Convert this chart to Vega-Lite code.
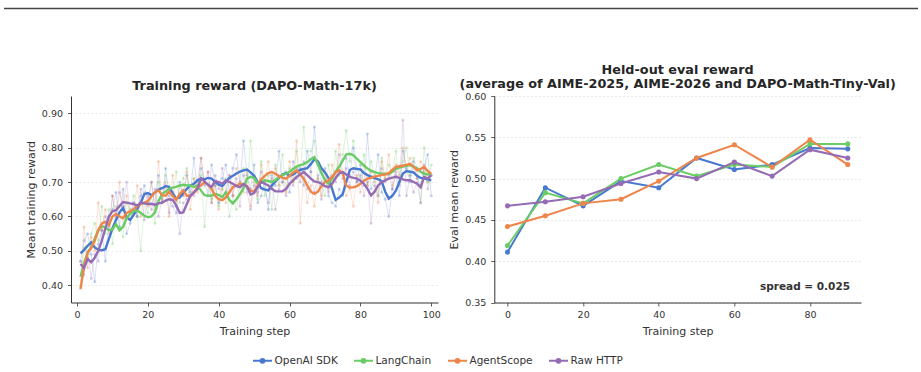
{
  "$schema": "https://vega.github.io/schema/vega-lite/v6.json",
  "padding": {"left": 3, "top": 7, "right": 4, "bottom": 4},
  "config": {
    "font": "DejaVu Sans",
    "view": {"stroke": null},
    "axis": {
      "labelFont": "DejaVu Sans", "labelFontSize": 9.5, "labelColor": "#333333",
      "titleFont": "DejaVu Sans", "titleFontSize": 11, "titleFontWeight": "normal", "titleColor": "#333333",
      "domainColor": "#333333", "domainWidth": 1, "tickColor": "#333333", "tickSize": 3.5, "tickWidth": 0.8,
      "gridColor": "#e2e2e2", "gridDash": [2, 2], "gridWidth": 0.8, "labelFlush": false
    },
    "axisX": {"grid": false, "labelPadding": 3, "titlePadding": 6.5},
    "axisY": {"labelPadding": 5, "titlePadding": 5},
    "title": {"font": "DejaVu Sans", "fontSize": 12.8, "fontWeight": "bold", "color": "#262626"},
    "legend": {
      "orient": "none", "legendX": 181, "legendY": 342, "direction": "horizontal",
      "padding": 0, "columnPadding": 12, "labelOffset": 1.5,
      "labelFont": "DejaVu Sans", "labelFontSize": 10.5, "labelColor": "#333333",
      "symbolType": "M-1,0H1M0.2,0A0.2,0.2,0,1,1,-0.2,0A0.2,0.2,0,1,1,0.2,0Z",
      "symbolSize": 361, "symbolStrokeWidth": 2
    }
  },
  "datasets": {
    "eval": [
      {"step": 0, "framework": "OpenAI SDK", "reward": 0.411}, {"step": 10, "framework": "OpenAI SDK", "reward": 0.489}, {"step": 20, "framework": "OpenAI SDK", "reward": 0.467}, {"step": 30, "framework": "OpenAI SDK", "reward": 0.497}, {"step": 40, "framework": "OpenAI SDK", "reward": 0.489}, {"step": 50, "framework": "OpenAI SDK", "reward": 0.525}, {"step": 60, "framework": "OpenAI SDK", "reward": 0.511}, {"step": 70, "framework": "OpenAI SDK", "reward": 0.517}, {"step": 80, "framework": "OpenAI SDK", "reward": 0.537}, {"step": 90, "framework": "OpenAI SDK", "reward": 0.536},
      {"step": 0, "framework": "LangChain", "reward": 0.419}, {"step": 10, "framework": "LangChain", "reward": 0.483}, {"step": 20, "framework": "LangChain", "reward": 0.470}, {"step": 30, "framework": "LangChain", "reward": 0.500}, {"step": 40, "framework": "LangChain", "reward": 0.517}, {"step": 50, "framework": "LangChain", "reward": 0.503}, {"step": 60, "framework": "LangChain", "reward": 0.517}, {"step": 70, "framework": "LangChain", "reward": 0.514}, {"step": 80, "framework": "LangChain", "reward": 0.542}, {"step": 90, "framework": "LangChain", "reward": 0.542},
      {"step": 0, "framework": "AgentScope", "reward": 0.442}, {"step": 10, "framework": "AgentScope", "reward": 0.455}, {"step": 20, "framework": "AgentScope", "reward": 0.470}, {"step": 30, "framework": "AgentScope", "reward": 0.475}, {"step": 40, "framework": "AgentScope", "reward": 0.497}, {"step": 50, "framework": "AgentScope", "reward": 0.525}, {"step": 60, "framework": "AgentScope", "reward": 0.541}, {"step": 70, "framework": "AgentScope", "reward": 0.514}, {"step": 80, "framework": "AgentScope", "reward": 0.547}, {"step": 90, "framework": "AgentScope", "reward": 0.517},
      {"step": 0, "framework": "Raw HTTP", "reward": 0.467}, {"step": 10, "framework": "Raw HTTP", "reward": 0.472}, {"step": 20, "framework": "Raw HTTP", "reward": 0.478}, {"step": 30, "framework": "Raw HTTP", "reward": 0.494}, {"step": 40, "framework": "Raw HTTP", "reward": 0.508}, {"step": 50, "framework": "Raw HTTP", "reward": 0.500}, {"step": 60, "framework": "Raw HTTP", "reward": 0.520}, {"step": 70, "framework": "Raw HTTP", "reward": 0.503}, {"step": 80, "framework": "Raw HTTP", "reward": 0.535}, {"step": 90, "framework": "Raw HTTP", "reward": 0.525}
    ],
    "train": [
      {"step":1,"framework":"OpenAI SDK","raw":0.47,"smooth":0.493},{"step":2,"framework":"OpenAI SDK","raw":0.53,"smooth":0.503},{"step":3,"framework":"OpenAI SDK","raw":0.55,"smooth":0.515},{"step":4,"framework":"OpenAI SDK","raw":0.49,"smooth":0.525},{"step":5,"framework":"OpenAI SDK","raw":0.41,"smooth":0.51},{"step":6,"framework":"OpenAI SDK","raw":0.52,"smooth":0.503},{"step":7,"framework":"OpenAI SDK","raw":0.56,"smooth":0.502},{"step":8,"framework":"OpenAI SDK","raw":0.47,"smooth":0.505},{"step":9,"framework":"OpenAI SDK","raw":0.6,"smooth":0.535},{"step":10,"framework":"OpenAI SDK","raw":0.62,"smooth":0.565},
      {"step":11,"framework":"OpenAI SDK","raw":0.67,"smooth":0.59},{"step":12,"framework":"OpenAI SDK","raw":0.57,"smooth":0.612},{"step":13,"framework":"OpenAI SDK","raw":0.68,"smooth":0.625},{"step":14,"framework":"OpenAI SDK","raw":0.55,"smooth":0.598},{"step":15,"framework":"OpenAI SDK","raw":0.58,"smooth":0.59},{"step":16,"framework":"OpenAI SDK","raw":0.64,"smooth":0.605},{"step":17,"framework":"OpenAI SDK","raw":0.6,"smooth":0.622},{"step":18,"framework":"OpenAI SDK","raw":0.66,"smooth":0.64},{"step":19,"framework":"OpenAI SDK","raw":0.69,"smooth":0.665},{"step":20,"framework":"OpenAI SDK","raw":0.64,"smooth":0.668},
      {"step":21,"framework":"OpenAI SDK","raw":0.7,"smooth":0.662},{"step":22,"framework":"OpenAI SDK","raw":0.63,"smooth":0.67},{"step":23,"framework":"OpenAI SDK","raw":0.72,"smooth":0.678},{"step":24,"framework":"OpenAI SDK","raw":0.64,"smooth":0.682},{"step":25,"framework":"OpenAI SDK","raw":0.74,"smooth":0.688},{"step":26,"framework":"OpenAI SDK","raw":0.66,"smooth":0.686},{"step":27,"framework":"OpenAI SDK","raw":0.63,"smooth":0.668},{"step":28,"framework":"OpenAI SDK","raw":0.61,"smooth":0.652},{"step":29,"framework":"OpenAI SDK","raw":0.7,"smooth":0.655},{"step":30,"framework":"OpenAI SDK","raw":0.66,"smooth":0.668},
      {"step":31,"framework":"OpenAI SDK","raw":0.72,"smooth":0.68},{"step":32,"framework":"OpenAI SDK","raw":0.67,"smooth":0.69},{"step":33,"framework":"OpenAI SDK","raw":0.77,"smooth":0.695},{"step":34,"framework":"OpenAI SDK","raw":0.68,"smooth":0.705},{"step":35,"framework":"OpenAI SDK","raw":0.74,"smooth":0.71},{"step":36,"framework":"OpenAI SDK","raw":0.7,"smooth":0.708},{"step":37,"framework":"OpenAI SDK","raw":0.66,"smooth":0.712},{"step":38,"framework":"OpenAI SDK","raw":0.75,"smooth":0.71},{"step":39,"framework":"OpenAI SDK","raw":0.69,"smooth":0.7},{"step":40,"framework":"OpenAI SDK","raw":0.64,"smooth":0.692},
      {"step":41,"framework":"OpenAI SDK","raw":0.71,"smooth":0.688},{"step":42,"framework":"OpenAI SDK","raw":0.75,"smooth":0.7},{"step":43,"framework":"OpenAI SDK","raw":0.67,"smooth":0.712},{"step":44,"framework":"OpenAI SDK","raw":0.74,"smooth":0.718},{"step":45,"framework":"OpenAI SDK","raw":0.78,"smooth":0.725},{"step":46,"framework":"OpenAI SDK","raw":0.7,"smooth":0.73},{"step":47,"framework":"OpenAI SDK","raw":0.82,"smooth":0.734},{"step":48,"framework":"OpenAI SDK","raw":0.72,"smooth":0.736},{"step":49,"framework":"OpenAI SDK","raw":0.68,"smooth":0.728},{"step":50,"framework":"OpenAI SDK","raw":0.75,"smooth":0.718},
      {"step":51,"framework":"OpenAI SDK","raw":0.64,"smooth":0.7},{"step":52,"framework":"OpenAI SDK","raw":0.66,"smooth":0.682},{"step":53,"framework":"OpenAI SDK","raw":0.7,"smooth":0.678},{"step":54,"framework":"OpenAI SDK","raw":0.62,"smooth":0.676},{"step":55,"framework":"OpenAI SDK","raw":0.72,"smooth":0.69},{"step":56,"framework":"OpenAI SDK","raw":0.69,"smooth":0.702},{"step":57,"framework":"OpenAI SDK","raw":0.79,"smooth":0.712},{"step":58,"framework":"OpenAI SDK","raw":0.7,"smooth":0.722},{"step":59,"framework":"OpenAI SDK","raw":0.73,"smooth":0.726},{"step":60,"framework":"OpenAI SDK","raw":0.67,"smooth":0.718},
      {"step":61,"framework":"OpenAI SDK","raw":0.76,"smooth":0.722},{"step":62,"framework":"OpenAI SDK","raw":0.71,"smooth":0.73},{"step":63,"framework":"OpenAI SDK","raw":0.74,"smooth":0.735},{"step":64,"framework":"OpenAI SDK","raw":0.69,"smooth":0.738},{"step":65,"framework":"OpenAI SDK","raw":0.79,"smooth":0.74},{"step":66,"framework":"OpenAI SDK","raw":0.73,"smooth":0.752},{"step":67,"framework":"OpenAI SDK","raw":0.86,"smooth":0.766},{"step":68,"framework":"OpenAI SDK","raw":0.75,"smooth":0.76},{"step":69,"framework":"OpenAI SDK","raw":0.7,"smooth":0.74},{"step":70,"framework":"OpenAI SDK","raw":0.74,"smooth":0.728},
      {"step":71,"framework":"OpenAI SDK","raw":0.66,"smooth":0.712},{"step":72,"framework":"OpenAI SDK","raw":0.64,"smooth":0.68},{"step":73,"framework":"OpenAI SDK","raw":0.63,"smooth":0.648},{"step":74,"framework":"OpenAI SDK","raw":0.68,"smooth":0.655},{"step":75,"framework":"OpenAI SDK","raw":0.66,"smooth":0.665},{"step":76,"framework":"OpenAI SDK","raw":0.77,"smooth":0.7},{"step":77,"framework":"OpenAI SDK","raw":0.72,"smooth":0.735},{"step":78,"framework":"OpenAI SDK","raw":0.8,"smooth":0.74},{"step":79,"framework":"OpenAI SDK","raw":0.7,"smooth":0.738},{"step":80,"framework":"OpenAI SDK","raw":0.75,"smooth":0.737},
      {"step":81,"framework":"OpenAI SDK","raw":0.69,"smooth":0.726},{"step":82,"framework":"OpenAI SDK","raw":0.84,"smooth":0.72},{"step":83,"framework":"OpenAI SDK","raw":0.68,"smooth":0.716},{"step":84,"framework":"OpenAI SDK","raw":0.71,"smooth":0.712},{"step":85,"framework":"OpenAI SDK","raw":0.78,"smooth":0.708},{"step":86,"framework":"OpenAI SDK","raw":0.67,"smooth":0.703},{"step":87,"framework":"OpenAI SDK","raw":0.65,"smooth":0.672},{"step":88,"framework":"OpenAI SDK","raw":0.6,"smooth":0.652},{"step":89,"framework":"OpenAI SDK","raw":0.68,"smooth":0.66},{"step":90,"framework":"OpenAI SDK","raw":0.72,"smooth":0.675},
      {"step":91,"framework":"OpenAI SDK","raw":0.66,"smooth":0.7},{"step":92,"framework":"OpenAI SDK","raw":0.79,"smooth":0.725},{"step":93,"framework":"OpenAI SDK","raw":0.74,"smooth":0.732},{"step":94,"framework":"OpenAI SDK","raw":0.7,"smooth":0.73},{"step":95,"framework":"OpenAI SDK","raw":0.76,"smooth":0.728},{"step":96,"framework":"OpenAI SDK","raw":0.71,"smooth":0.718},{"step":97,"framework":"OpenAI SDK","raw":0.69,"smooth":0.712},{"step":98,"framework":"OpenAI SDK","raw":0.74,"smooth":0.71},{"step":99,"framework":"OpenAI SDK","raw":0.78,"smooth":0.708},{"step":100,"framework":"OpenAI SDK","raw":0.66,"smooth":0.705},

      {"step":1,"framework":"LangChain","raw":0.4,"smooth":0.425},{"step":2,"framework":"LangChain","raw":0.51,"smooth":0.465},{"step":3,"framework":"LangChain","raw":0.48,"smooth":0.495},{"step":4,"framework":"LangChain","raw":0.55,"smooth":0.51},{"step":5,"framework":"LangChain","raw":0.58,"smooth":0.535},{"step":6,"framework":"LangChain","raw":0.53,"smooth":0.56},{"step":7,"framework":"LangChain","raw":0.63,"smooth":0.572},{"step":8,"framework":"LangChain","raw":0.55,"smooth":0.568},{"step":9,"framework":"LangChain","raw":0.62,"smooth":0.56},{"step":10,"framework":"LangChain","raw":0.52,"smooth":0.562},
      {"step":11,"framework":"LangChain","raw":0.63,"smooth":0.578},{"step":12,"framework":"LangChain","raw":0.57,"smooth":0.56},{"step":13,"framework":"LangChain","raw":0.54,"smooth":0.57},{"step":14,"framework":"LangChain","raw":0.64,"smooth":0.595},{"step":15,"framework":"LangChain","raw":0.62,"smooth":0.608},{"step":16,"framework":"LangChain","raw":0.66,"smooth":0.615},{"step":17,"framework":"LangChain","raw":0.6,"smooth":0.617},{"step":18,"framework":"LangChain","raw":0.5,"smooth":0.61},{"step":19,"framework":"LangChain","raw":0.64,"smooth":0.602},{"step":20,"framework":"LangChain","raw":0.61,"smooth":0.598},
      {"step":21,"framework":"LangChain","raw":0.66,"smooth":0.6},{"step":22,"framework":"LangChain","raw":0.58,"smooth":0.612},{"step":23,"framework":"LangChain","raw":0.7,"smooth":0.645},{"step":24,"framework":"LangChain","raw":0.64,"smooth":0.665},{"step":25,"framework":"LangChain","raw":0.72,"smooth":0.672},{"step":26,"framework":"LangChain","raw":0.68,"smooth":0.68},{"step":27,"framework":"LangChain","raw":0.66,"smooth":0.684},{"step":28,"framework":"LangChain","raw":0.73,"smooth":0.686},{"step":29,"framework":"LangChain","raw":0.64,"smooth":0.69},{"step":30,"framework":"LangChain","raw":0.71,"smooth":0.692},
      {"step":31,"framework":"LangChain","raw":0.74,"smooth":0.69},{"step":32,"framework":"LangChain","raw":0.66,"smooth":0.69},{"step":33,"framework":"LangChain","raw":0.71,"smooth":0.686},{"step":34,"framework":"LangChain","raw":0.68,"smooth":0.69},{"step":35,"framework":"LangChain","raw":0.72,"smooth":0.675},{"step":36,"framework":"LangChain","raw":0.57,"smooth":0.662},{"step":37,"framework":"LangChain","raw":0.69,"smooth":0.66},{"step":38,"framework":"LangChain","raw":0.65,"smooth":0.661},{"step":39,"framework":"LangChain","raw":0.7,"smooth":0.665},{"step":40,"framework":"LangChain","raw":0.63,"smooth":0.663},
      {"step":41,"framework":"LangChain","raw":0.68,"smooth":0.656},{"step":42,"framework":"LangChain","raw":0.71,"smooth":0.67},{"step":43,"framework":"LangChain","raw":0.6,"smooth":0.648},{"step":44,"framework":"LangChain","raw":0.66,"smooth":0.638},{"step":45,"framework":"LangChain","raw":0.62,"smooth":0.65},{"step":46,"framework":"LangChain","raw":0.69,"smooth":0.665},{"step":47,"framework":"LangChain","raw":0.74,"smooth":0.682},{"step":48,"framework":"LangChain","raw":0.68,"smooth":0.71},{"step":49,"framework":"LangChain","raw":0.82,"smooth":0.715},{"step":50,"framework":"LangChain","raw":0.7,"smooth":0.712},
      {"step":51,"framework":"LangChain","raw":0.65,"smooth":0.696},{"step":52,"framework":"LangChain","raw":0.76,"smooth":0.7},{"step":53,"framework":"LangChain","raw":0.66,"smooth":0.705},{"step":54,"framework":"LangChain","raw":0.72,"smooth":0.703},{"step":55,"framework":"LangChain","raw":0.62,"smooth":0.7},{"step":56,"framework":"LangChain","raw":0.75,"smooth":0.706},{"step":57,"framework":"LangChain","raw":0.69,"smooth":0.714},{"step":58,"framework":"LangChain","raw":0.78,"smooth":0.72},{"step":59,"framework":"LangChain","raw":0.68,"smooth":0.724},{"step":60,"framework":"LangChain","raw":0.74,"smooth":0.73},
      {"step":61,"framework":"LangChain","raw":0.7,"smooth":0.738},{"step":62,"framework":"LangChain","raw":0.79,"smooth":0.745},{"step":63,"framework":"LangChain","raw":0.72,"smooth":0.749},{"step":64,"framework":"LangChain","raw":0.86,"smooth":0.752},{"step":65,"framework":"LangChain","raw":0.74,"smooth":0.758},{"step":66,"framework":"LangChain","raw":0.79,"smooth":0.766},{"step":67,"framework":"LangChain","raw":0.82,"smooth":0.773},{"step":68,"framework":"LangChain","raw":0.71,"smooth":0.752},{"step":69,"framework":"LangChain","raw":0.69,"smooth":0.726},{"step":70,"framework":"LangChain","raw":0.66,"smooth":0.705},
      {"step":71,"framework":"LangChain","raw":0.75,"smooth":0.696},{"step":72,"framework":"LangChain","raw":0.68,"smooth":0.71},{"step":73,"framework":"LangChain","raw":0.79,"smooth":0.73},{"step":74,"framework":"LangChain","raw":0.72,"smooth":0.745},{"step":75,"framework":"LangChain","raw":0.78,"smooth":0.762},{"step":76,"framework":"LangChain","raw":0.85,"smooth":0.78},{"step":77,"framework":"LangChain","raw":0.76,"smooth":0.782},{"step":78,"framework":"LangChain","raw":0.82,"smooth":0.778},{"step":79,"framework":"LangChain","raw":0.74,"smooth":0.768},{"step":80,"framework":"LangChain","raw":0.71,"smooth":0.758},
      {"step":81,"framework":"LangChain","raw":0.78,"smooth":0.748},{"step":82,"framework":"LangChain","raw":0.69,"smooth":0.739},{"step":83,"framework":"LangChain","raw":0.76,"smooth":0.733},{"step":84,"framework":"LangChain","raw":0.72,"smooth":0.729},{"step":85,"framework":"LangChain","raw":0.66,"smooth":0.726},{"step":86,"framework":"LangChain","raw":0.77,"smooth":0.724},{"step":87,"framework":"LangChain","raw":0.71,"smooth":0.724},{"step":88,"framework":"LangChain","raw":0.75,"smooth":0.723},{"step":89,"framework":"LangChain","raw":0.73,"smooth":0.73},{"step":90,"framework":"LangChain","raw":0.79,"smooth":0.738},
      {"step":91,"framework":"LangChain","raw":0.7,"smooth":0.742},{"step":92,"framework":"LangChain","raw":0.76,"smooth":0.745},{"step":93,"framework":"LangChain","raw":0.8,"smooth":0.747},{"step":94,"framework":"LangChain","raw":0.72,"smooth":0.749},{"step":95,"framework":"LangChain","raw":0.77,"smooth":0.745},{"step":96,"framework":"LangChain","raw":0.74,"smooth":0.74},{"step":97,"framework":"LangChain","raw":0.64,"smooth":0.73},{"step":98,"framework":"LangChain","raw":0.8,"smooth":0.724},{"step":99,"framework":"LangChain","raw":0.7,"smooth":0.722},{"step":100,"framework":"LangChain","raw":0.75,"smooth":0.724},

      {"step":1,"framework":"AgentScope","raw":0.39,"smooth":0.39},{"step":2,"framework":"AgentScope","raw":0.57,"smooth":0.455},{"step":3,"framework":"AgentScope","raw":0.45,"smooth":0.495},{"step":4,"framework":"AgentScope","raw":0.54,"smooth":0.508},{"step":5,"framework":"AgentScope","raw":0.5,"smooth":0.53},{"step":6,"framework":"AgentScope","raw":0.64,"smooth":0.56},{"step":7,"framework":"AgentScope","raw":0.56,"smooth":0.58},{"step":8,"framework":"AgentScope","raw":0.62,"smooth":0.584},{"step":9,"framework":"AgentScope","raw":0.55,"smooth":0.575},{"step":10,"framework":"AgentScope","raw":0.66,"smooth":0.6},
      {"step":11,"framework":"AgentScope","raw":0.6,"smooth":0.607},{"step":12,"framework":"AgentScope","raw":0.7,"smooth":0.6},{"step":13,"framework":"AgentScope","raw":0.57,"smooth":0.595},{"step":14,"framework":"AgentScope","raw":0.66,"smooth":0.61},{"step":15,"framework":"AgentScope","raw":0.59,"smooth":0.615},{"step":16,"framework":"AgentScope","raw":0.62,"smooth":0.622},{"step":17,"framework":"AgentScope","raw":0.69,"smooth":0.63},{"step":18,"framework":"AgentScope","raw":0.6,"smooth":0.636},{"step":19,"framework":"AgentScope","raw":0.67,"smooth":0.64},{"step":20,"framework":"AgentScope","raw":0.63,"smooth":0.645},
      {"step":21,"framework":"AgentScope","raw":0.7,"smooth":0.658},{"step":22,"framework":"AgentScope","raw":0.62,"smooth":0.67},{"step":23,"framework":"AgentScope","raw":0.76,"smooth":0.676},{"step":24,"framework":"AgentScope","raw":0.64,"smooth":0.662},{"step":25,"framework":"AgentScope","raw":0.7,"smooth":0.66},{"step":26,"framework":"AgentScope","raw":0.6,"smooth":0.672},{"step":27,"framework":"AgentScope","raw":0.72,"smooth":0.66},{"step":28,"framework":"AgentScope","raw":0.63,"smooth":0.648},{"step":29,"framework":"AgentScope","raw":0.69,"smooth":0.665},{"step":30,"framework":"AgentScope","raw":0.66,"smooth":0.676},
      {"step":31,"framework":"AgentScope","raw":0.73,"smooth":0.66},{"step":32,"framework":"AgentScope","raw":0.62,"smooth":0.66},{"step":33,"framework":"AgentScope","raw":0.71,"smooth":0.67},{"step":34,"framework":"AgentScope","raw":0.67,"smooth":0.685},{"step":35,"framework":"AgentScope","raw":0.77,"smooth":0.69},{"step":36,"framework":"AgentScope","raw":0.7,"smooth":0.7},{"step":37,"framework":"AgentScope","raw":0.73,"smooth":0.692},{"step":38,"framework":"AgentScope","raw":0.64,"smooth":0.68},{"step":39,"framework":"AgentScope","raw":0.69,"smooth":0.66},{"step":40,"framework":"AgentScope","raw":0.62,"smooth":0.65},
      {"step":41,"framework":"AgentScope","raw":0.68,"smooth":0.647},{"step":42,"framework":"AgentScope","raw":0.64,"smooth":0.655},{"step":43,"framework":"AgentScope","raw":0.72,"smooth":0.67},{"step":44,"framework":"AgentScope","raw":0.66,"smooth":0.685},{"step":45,"framework":"AgentScope","raw":0.74,"smooth":0.69},{"step":46,"framework":"AgentScope","raw":0.7,"smooth":0.695},{"step":47,"framework":"AgentScope","raw":0.67,"smooth":0.693},{"step":48,"framework":"AgentScope","raw":0.73,"smooth":0.688},{"step":49,"framework":"AgentScope","raw":0.63,"smooth":0.675},{"step":50,"framework":"AgentScope","raw":0.71,"smooth":0.672},
      {"step":51,"framework":"AgentScope","raw":0.66,"smooth":0.69},{"step":52,"framework":"AgentScope","raw":0.75,"smooth":0.708},{"step":53,"framework":"AgentScope","raw":0.7,"smooth":0.718},{"step":54,"framework":"AgentScope","raw":0.76,"smooth":0.726},{"step":55,"framework":"AgentScope","raw":0.68,"smooth":0.729},{"step":56,"framework":"AgentScope","raw":0.74,"smooth":0.724},{"step":57,"framework":"AgentScope","raw":0.69,"smooth":0.718},{"step":58,"framework":"AgentScope","raw":0.72,"smooth":0.712},{"step":59,"framework":"AgentScope","raw":0.67,"smooth":0.71},{"step":60,"framework":"AgentScope","raw":0.76,"smooth":0.718},
      {"step":61,"framework":"AgentScope","raw":0.7,"smooth":0.728},{"step":62,"framework":"AgentScope","raw":0.82,"smooth":0.734},{"step":63,"framework":"AgentScope","raw":0.58,"smooth":0.722},{"step":64,"framework":"AgentScope","raw":0.73,"smooth":0.71},{"step":65,"framework":"AgentScope","raw":0.64,"smooth":0.69},{"step":66,"framework":"AgentScope","raw":0.69,"smooth":0.672},{"step":67,"framework":"AgentScope","raw":0.63,"smooth":0.666},{"step":68,"framework":"AgentScope","raw":0.71,"smooth":0.672},{"step":69,"framework":"AgentScope","raw":0.66,"smooth":0.688},{"step":70,"framework":"AgentScope","raw":0.73,"smooth":0.7},
      {"step":71,"framework":"AgentScope","raw":0.68,"smooth":0.705},{"step":72,"framework":"AgentScope","raw":0.75,"smooth":0.715},{"step":73,"framework":"AgentScope","raw":0.71,"smooth":0.728},{"step":74,"framework":"AgentScope","raw":0.81,"smooth":0.734},{"step":75,"framework":"AgentScope","raw":0.73,"smooth":0.725},{"step":76,"framework":"AgentScope","raw":0.66,"smooth":0.69},{"step":77,"framework":"AgentScope","raw":0.68,"smooth":0.684},{"step":78,"framework":"AgentScope","raw":0.63,"smooth":0.685},{"step":79,"framework":"AgentScope","raw":0.72,"smooth":0.688},{"step":80,"framework":"AgentScope","raw":0.67,"smooth":0.695},
      {"step":81,"framework":"AgentScope","raw":0.75,"smooth":0.704},{"step":82,"framework":"AgentScope","raw":0.69,"smooth":0.71},{"step":83,"framework":"AgentScope","raw":0.73,"smooth":0.712},{"step":84,"framework":"AgentScope","raw":0.7,"smooth":0.716},{"step":85,"framework":"AgentScope","raw":0.64,"smooth":0.718},{"step":86,"framework":"AgentScope","raw":0.76,"smooth":0.721},{"step":87,"framework":"AgentScope","raw":0.71,"smooth":0.722},{"step":88,"framework":"AgentScope","raw":0.78,"smooth":0.726},{"step":89,"framework":"AgentScope","raw":0.69,"smooth":0.735},{"step":90,"framework":"AgentScope","raw":0.75,"smooth":0.744},
      {"step":91,"framework":"AgentScope","raw":0.72,"smooth":0.746},{"step":92,"framework":"AgentScope","raw":0.8,"smooth":0.748},{"step":93,"framework":"AgentScope","raw":0.73,"smooth":0.75},{"step":94,"framework":"AgentScope","raw":0.77,"smooth":0.753},{"step":95,"framework":"AgentScope","raw":0.74,"smooth":0.745},{"step":96,"framework":"AgentScope","raw":0.71,"smooth":0.734},{"step":97,"framework":"AgentScope","raw":0.76,"smooth":0.738},{"step":98,"framework":"AgentScope","raw":0.73,"smooth":0.744},{"step":99,"framework":"AgentScope","raw":0.7,"smooth":0.732},{"step":100,"framework":"AgentScope","raw":0.72,"smooth":0.724},

      {"step":1,"framework":"Raw HTTP","raw":0.47,"smooth":0.462},{"step":2,"framework":"Raw HTTP","raw":0.43,"smooth":0.45},{"step":3,"framework":"Raw HTTP","raw":0.5,"smooth":0.476},{"step":4,"framework":"Raw HTTP","raw":0.42,"smooth":0.467},{"step":5,"framework":"Raw HTTP","raw":0.49,"smooth":0.48},{"step":6,"framework":"Raw HTTP","raw":0.47,"smooth":0.5},{"step":7,"framework":"Raw HTTP","raw":0.56,"smooth":0.53},{"step":8,"framework":"Raw HTTP","raw":0.6,"smooth":0.565},{"step":9,"framework":"Raw HTTP","raw":0.57,"smooth":0.6},{"step":10,"framework":"Raw HTTP","raw":0.66,"smooth":0.615},
      {"step":11,"framework":"Raw HTTP","raw":0.59,"smooth":0.618},{"step":12,"framework":"Raw HTTP","raw":0.67,"smooth":0.63},{"step":13,"framework":"Raw HTTP","raw":0.63,"smooth":0.642},{"step":14,"framework":"Raw HTTP","raw":0.7,"smooth":0.64},{"step":15,"framework":"Raw HTTP","raw":0.61,"smooth":0.638},{"step":16,"framework":"Raw HTTP","raw":0.64,"smooth":0.636},{"step":17,"framework":"Raw HTTP","raw":0.6,"smooth":0.632},{"step":18,"framework":"Raw HTTP","raw":0.68,"smooth":0.64},{"step":19,"framework":"Raw HTTP","raw":0.59,"smooth":0.638},{"step":20,"framework":"Raw HTTP","raw":0.66,"smooth":0.636},
      {"step":21,"framework":"Raw HTTP","raw":0.62,"smooth":0.637},{"step":22,"framework":"Raw HTTP","raw":0.68,"smooth":0.634},{"step":23,"framework":"Raw HTTP","raw":0.6,"smooth":0.638},{"step":24,"framework":"Raw HTTP","raw":0.65,"smooth":0.64},{"step":25,"framework":"Raw HTTP","raw":0.69,"smooth":0.646},{"step":26,"framework":"Raw HTTP","raw":0.61,"smooth":0.65},{"step":27,"framework":"Raw HTTP","raw":0.67,"smooth":0.648},{"step":28,"framework":"Raw HTTP","raw":0.63,"smooth":0.632},{"step":29,"framework":"Raw HTTP","raw":0.55,"smooth":0.61},{"step":30,"framework":"Raw HTTP","raw":0.64,"smooth":0.612},
      {"step":31,"framework":"Raw HTTP","raw":0.65,"smooth":0.636},{"step":32,"framework":"Raw HTTP","raw":0.69,"smooth":0.66},{"step":33,"framework":"Raw HTTP","raw":0.66,"smooth":0.67},{"step":34,"framework":"Raw HTTP","raw":0.7,"smooth":0.68},{"step":35,"framework":"Raw HTTP","raw":0.77,"smooth":0.71},{"step":36,"framework":"Raw HTTP","raw":0.69,"smooth":0.702},{"step":37,"framework":"Raw HTTP","raw":0.73,"smooth":0.692},{"step":38,"framework":"Raw HTTP","raw":0.64,"smooth":0.686},{"step":39,"framework":"Raw HTTP","raw":0.72,"smooth":0.703},{"step":40,"framework":"Raw HTTP","raw":0.68,"smooth":0.7},
      {"step":41,"framework":"Raw HTTP","raw":0.74,"smooth":0.695},{"step":42,"framework":"Raw HTTP","raw":0.67,"smooth":0.705},{"step":43,"framework":"Raw HTTP","raw":0.72,"smooth":0.7},{"step":44,"framework":"Raw HTTP","raw":0.66,"smooth":0.695},{"step":45,"framework":"Raw HTTP","raw":0.71,"smooth":0.688},{"step":46,"framework":"Raw HTTP","raw":0.63,"smooth":0.685},{"step":47,"framework":"Raw HTTP","raw":0.72,"smooth":0.694},{"step":48,"framework":"Raw HTTP","raw":0.67,"smooth":0.686},{"step":49,"framework":"Raw HTTP","raw":0.62,"smooth":0.664},{"step":50,"framework":"Raw HTTP","raw":0.69,"smooth":0.668},
      {"step":51,"framework":"Raw HTTP","raw":0.67,"smooth":0.685},{"step":52,"framework":"Raw HTTP","raw":0.73,"smooth":0.7},{"step":53,"framework":"Raw HTTP","raw":0.68,"smooth":0.695},{"step":54,"framework":"Raw HTTP","raw":0.64,"smooth":0.69},{"step":55,"framework":"Raw HTTP","raw":0.71,"smooth":0.68},{"step":56,"framework":"Raw HTTP","raw":0.62,"smooth":0.673},{"step":57,"framework":"Raw HTTP","raw":0.68,"smooth":0.673},{"step":58,"framework":"Raw HTTP","raw":0.7,"smooth":0.673},{"step":59,"framework":"Raw HTTP","raw":0.66,"smooth":0.68},{"step":60,"framework":"Raw HTTP","raw":0.72,"smooth":0.695},
      {"step":61,"framework":"Raw HTTP","raw":0.69,"smooth":0.705},{"step":62,"framework":"Raw HTTP","raw":0.74,"smooth":0.715},{"step":63,"framework":"Raw HTTP","raw":0.7,"smooth":0.722},{"step":64,"framework":"Raw HTTP","raw":0.76,"smooth":0.729},{"step":65,"framework":"Raw HTTP","raw":0.68,"smooth":0.72},{"step":66,"framework":"Raw HTTP","raw":0.73,"smooth":0.71},{"step":67,"framework":"Raw HTTP","raw":0.67,"smooth":0.702},{"step":68,"framework":"Raw HTTP","raw":0.72,"smooth":0.7},{"step":69,"framework":"Raw HTTP","raw":0.65,"smooth":0.695},{"step":70,"framework":"Raw HTTP","raw":0.71,"smooth":0.688},
      {"step":71,"framework":"Raw HTTP","raw":0.67,"smooth":0.685},{"step":72,"framework":"Raw HTTP","raw":0.72,"smooth":0.695},{"step":73,"framework":"Raw HTTP","raw":0.7,"smooth":0.712},{"step":74,"framework":"Raw HTTP","raw":0.78,"smooth":0.725},{"step":75,"framework":"Raw HTTP","raw":0.71,"smooth":0.729},{"step":76,"framework":"Raw HTTP","raw":0.74,"smooth":0.722},{"step":77,"framework":"Raw HTTP","raw":0.69,"smooth":0.715},{"step":78,"framework":"Raw HTTP","raw":0.73,"smooth":0.712},{"step":79,"framework":"Raw HTTP","raw":0.7,"smooth":0.71},{"step":80,"framework":"Raw HTTP","raw":0.72,"smooth":0.704},
      {"step":81,"framework":"Raw HTTP","raw":0.66,"smooth":0.695},{"step":82,"framework":"Raw HTTP","raw":0.7,"smooth":0.68},{"step":83,"framework":"Raw HTTP","raw":0.58,"smooth":0.661},{"step":84,"framework":"Raw HTTP","raw":0.69,"smooth":0.672},{"step":85,"framework":"Raw HTTP","raw":0.66,"smooth":0.69},{"step":86,"framework":"Raw HTTP","raw":0.74,"smooth":0.7},{"step":87,"framework":"Raw HTTP","raw":0.7,"smooth":0.705},{"step":88,"framework":"Raw HTTP","raw":0.72,"smooth":0.71},{"step":89,"framework":"Raw HTTP","raw":0.68,"smooth":0.713},{"step":90,"framework":"Raw HTTP","raw":0.73,"smooth":0.715},
      {"step":91,"framework":"Raw HTTP","raw":0.69,"smooth":0.712},{"step":92,"framework":"Raw HTTP","raw":0.88,"smooth":0.708},{"step":93,"framework":"Raw HTTP","raw":0.66,"smooth":0.705},{"step":94,"framework":"Raw HTTP","raw":0.72,"smooth":0.705},{"step":95,"framework":"Raw HTTP","raw":0.67,"smooth":0.7},{"step":96,"framework":"Raw HTTP","raw":0.7,"smooth":0.695},{"step":97,"framework":"Raw HTTP","raw":0.64,"smooth":0.685},{"step":98,"framework":"Raw HTTP","raw":0.75,"smooth":0.715},{"step":99,"framework":"Raw HTTP","raw":0.68,"smooth":0.71},{"step":100,"framework":"Raw HTTP","raw":0.72,"smooth":0.72}
    ]
  },
  "spacing": 53,
  "vconcat": [
    {
      "width": 847,
      "height": 1,
      "data": {"values": [{"from": -7.91, "to": 100, "level": 0.5}]},
      "mark": {"type": "rule", "color": "#444444", "strokeWidth": 1.6},
      "encoding": {
        "x": {"field": "from", "type": "quantitative", "scale": {"domain": [0, 100]}, "axis": null},
        "x2": {"field": "to"},
        "y": {"field": "level", "type": "quantitative", "scale": {"domain": [0, 1]}, "axis": null}
      }
    },
    {
      "bounds": "flush",
      "spacing": 56.3,
      "hconcat": [
        {
          "width": 367,
          "height": 206.5,
          "title": {"text": "Training reward (DAPO-Math-17k)", "offset": 3},
          "data": {"name": "train"},
          "encoding": {
            "x": {"field": "step", "type": "quantitative", "title": "Training step",
                  "scale": {"domain": [-1.7, 101.9], "nice": false, "zero": false},
                  "axis": {"values": [0, 20, 40, 60, 80, 100], "format": "d"}},
            "color": {"field": "framework", "type": "nominal", "title": null,
                      "scale": {"domain": ["OpenAI SDK", "LangChain", "AgentScope", "Raw HTTP"],
                                "range": ["#4878d0", "#6acc64", "#ee854a", "#956cb4"]},
                      "legend": {"encode": {"symbols": {"update": {
                        "fill": {"scale": "color", "field": "value"},
                        "stroke": {"scale": "color", "field": "value"},
                        "strokeWidth": {"value": 2}, "opacity": {"value": 1}}}}}}
          },
          "layer": [
            {
              "mark": {"type": "line", "strokeWidth": 0.8, "opacity": 0.28},
              "encoding": {
                "y": {"field": "raw", "type": "quantitative", "title": "Mean training reward",
                      "scale": {"domain": [0.35, 0.95], "nice": false, "zero": false},
                      "axis": {"values": [0.4, 0.5, 0.6, 0.7, 0.8, 0.9], "format": ".2f", "grid": true}}
              }
            },
            {
              "mark": {"type": "point", "filled": true, "size": 9, "opacity": 0.3},
              "encoding": {"y": {"field": "raw", "type": "quantitative"}}
            },
            {
              "mark": {"type": "line", "strokeWidth": 2.4},
              "encoding": {"y": {"field": "smooth", "type": "quantitative"}}
            }
          ]
        },
        {
          "width": 366.7,
          "height": 206.5,
          "title": {"text": ["Held-out eval reward", "(average of AIME-2025, AIME-2026 and DAPO-Math-Tiny-Val)"], "offset": 0, "lineHeight": 14.5},
          "data": {"name": "eval"},
          "layer": [
            {
              "mark": {"type": "line", "strokeWidth": 2},
              "encoding": {
                "x": {"field": "step", "type": "quantitative", "title": "Training step",
                      "scale": {"domain": [-3.5, 93.5], "nice": false, "zero": false},
                      "axis": {"values": [0, 20, 40, 60, 80], "format": "d"}},
                "y": {"field": "reward", "type": "quantitative", "title": "Eval mean reward",
                      "scale": {"domain": [0.35, 0.6], "nice": false, "zero": false},
                      "axis": {"values": [0.35, 0.4, 0.45, 0.5, 0.55, 0.6], "format": ".2f", "grid": true}},
                "color": {"field": "framework", "type": "nominal", "title": null}
              }
            },
            {
              "mark": {"type": "point", "filled": true, "size": 26, "opacity": 1},
              "encoding": {
                "x": {"field": "step", "type": "quantitative"},
                "y": {"field": "reward", "type": "quantitative"},
                "color": {"field": "framework", "type": "nominal", "title": null}
              }
            },
            {
              "data": {"values": [{"step": 90.6, "reward": 0.369, "label": "spread = 0.025"}]},
              "mark": {"type": "text", "align": "right", "baseline": "middle", "fontWeight": "bold", "fontSize": 10.5, "color": "#333333", "font": "DejaVu Sans"},
              "encoding": {
                "x": {"field": "step", "type": "quantitative"},
                "y": {"field": "reward", "type": "quantitative"},
                "text": {"field": "label"}
              }
            }
          ]
        }
      ]
    }
  ]
}
